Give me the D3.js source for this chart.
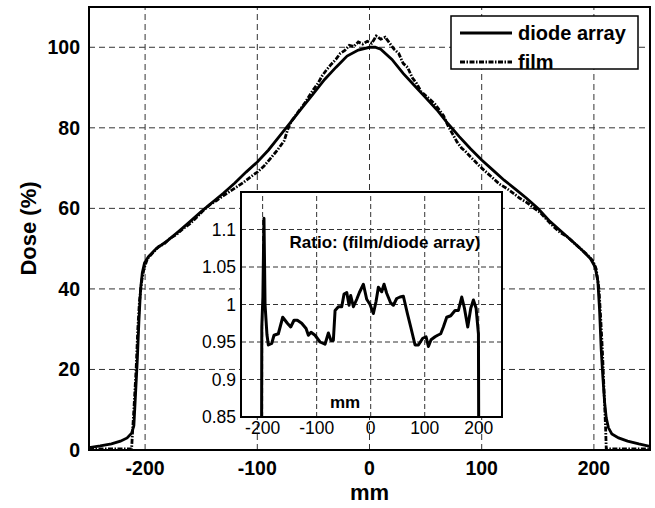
<!DOCTYPE html>
<html>
<head>
<meta charset="utf-8">
<script src="https://cdn.jsdelivr.net/npm/d3@7"></script>
<style>
    body { margin: 0; background: #fff; }
    svg { font-family: "Liberation Sans", Arial, sans-serif; }
</style>
</head>
<body>
<svg id="chart" width="655" height="508"></svg>
<script>
// position (mm), dose (%)
var diodeArray = [
    [-250, 0.6], [-240, 1.0], [-230, 1.5], [-222, 2.2], [-216, 3.0], [-212, 4.2], [-210, 6],
    [-208.5, 14], [-207, 22], [-205.5, 32], [-204, 40], [-202.5, 44], [-200.5, 46.5], [-197, 48],
    [-190, 50], [-180, 52], [-170, 54.3], [-160, 56.7], [-150, 59.2], [-140, 61.5], [-130, 63.8],
    [-120, 66.3], [-110, 69], [-100, 71.5], [-90, 74.5], [-80, 78], [-70, 81.5], [-60, 85],
    [-50, 88.5], [-40, 92], [-30, 95], [-20, 97.8], [-10, 99.3], [0, 100], [5, 100], [10, 99.5],
    [20, 97], [30, 93.5], [40, 90.5], [50, 87.5], [60, 84.5], [70, 81], [80, 77.8], [90, 74.8],
    [100, 72], [110, 69.5], [120, 67], [130, 64.8], [140, 62.5], [150, 60], [160, 57], [170, 54.5],
    [180, 52], [190, 49.5], [197, 47.5], [201, 45.5], [203.5, 42], [205, 35], [206.5, 25], [208, 18],
    [209.5, 12], [211, 8], [213, 5.5], [216, 4], [222, 3], [230, 2.2], [240, 1.5], [250, 0.9]
];
var film = [
    [-250, 0.3], [-240, 0.3], [-230, 0.3], [-220, 0.3], [-212, 0.3], [-211.5, 3], [-210, 10],
    [-208, 20], [-206.5, 30], [-205, 37], [-203, 42], [-201, 45], [-198, 47.5], [-193, 49],
    [-188, 50.5], [-183, 51.2], [-178, 52.5], [-172, 53.5], [-166, 55], [-160, 56.2], [-154, 57.8],
    [-148, 59.5], [-142, 61], [-136, 62], [-130, 63.2], [-124, 64.3], [-118, 65.4], [-112, 66.5],
    [-106, 67.8], [-100, 69], [-94, 70.5], [-88, 72.5], [-82, 74.5], [-76, 76.8], [-73, 79.5],
    [-70, 81.5], [-66, 83], [-62, 84.5], [-58, 86], [-54, 87.8], [-50, 89.5], [-46, 91], [-42, 93],
    [-38, 94.5], [-34, 95.8], [-30, 97], [-26, 98.5], [-22, 99.2], [-18, 100.5], [-14, 100.2],
    [-10, 101.3], [-6, 100.8], [-2, 101.5], [2, 101], [6, 102.8], [10, 102], [14, 102.5], [18, 101],
    [22, 99.5], [26, 98.5], [30, 96], [34, 95], [38, 92.5], [42, 91], [46, 89], [50, 88], [54, 87],
    [58, 86], [62, 84.5], [66, 83], [70, 80.5], [74, 78.5], [78, 76.5], [82, 75], [86, 74],
    [90, 72.8], [94, 71.7], [98, 70.5], [102, 69.5], [106, 68.5], [110, 67.5], [116, 66], [122, 65],
    [128, 63.8], [134, 62.5], [140, 61.5], [146, 60.2], [152, 59], [158, 57.2], [164, 55.5],
    [170, 54], [176, 53], [182, 51.5], [188, 50], [194, 48.5], [199, 47], [202, 45], [204.5, 40],
    [206, 33], [207.5, 25], [209, 15], [210.5, 5], [211, 0.3], [220, 0.3], [230, 0.3], [240, 0.3],
    [250, 0.3]
];
// film / diode array
var ratio = [
    [-202, 0.8], [-201.5, 0.97], [-199.5, 1.01], [-197.5, 1.115], [-195.5, 1.0], [-192, 0.96],
    [-189.4, 0.946], [-183.2, 0.948], [-178.9, 0.959], [-170.9, 0.961], [-162.8, 0.983],
    [-154.2, 0.975], [-148, 0.970], [-141.9, 0.979], [-135.7, 0.979], [-127.7, 0.975],
    [-119.6, 0.968], [-115.3, 0.959], [-110.4, 0.963], [-103, 0.959], [-93.8, 0.950],
    [-84.5, 0.947], [-78.3, 0.962], [-73.5, 0.952], [-69.1, 0.952], [-65.9, 0.992], [-59.8, 0.997],
    [-53.6, 0.997], [-49.3, 1.014], [-44.3, 1.016], [-40, 0.999], [-37, 1.012], [-32, 0.997],
    [-25.8, 1.007], [-20.9, 1.016], [-13.5, 1.027], [-7.4, 1.007], [-1.2, 1.0], [5, 0.988],
    [9.9, 1.004], [14.2, 1.023], [20.4, 1.017], [24.7, 1.027], [29.6, 1.015], [37, 1.002],
    [42, 0.999], [48.1, 1.008], [54.3, 1.010], [60.5, 1.011], [67.9, 0.988], [74.1, 0.970],
    [82.1, 0.946], [88.3, 0.946], [96.3, 0.955], [102.5, 0.957], [106.8, 0.944], [111.7, 0.953],
    [119.1, 0.957], [124, 0.959], [129.6, 0.961], [134.5, 0.970], [140.7, 0.983], [148.1, 0.985],
    [156.1, 0.992], [162.3, 0.992], [168.5, 1.010], [173.5, 0.995], [179.6, 0.970], [185.2, 0.995],
    [190.1, 1.006], [195.1, 0.995], [199.4, 0.961], [200, 0.8]
];
var xTicks = [-200, -100, 0, 100, 200];
var yTicks = [0, 20, 40, 60, 80, 100];
var insetXTicks = [-200, -100, 0, 100, 200];
var insetYTicks = [0.85, 0.9, 0.95, 1, 1.05, 1.1];

var svg = d3.select("#chart");

var plot = {left: 89, top: 7, right: 650, bottom: 450};
var x = d3.scaleLinear().domain([-250, 250]).range([plot.left, plot.right]);
var y = d3.scaleLinear().domain([0, 110]).range([plot.bottom, plot.top]);

function drawGrid(g, xs, ys, xt, yt, dash) {
    g.selectAll("line.vgrid")
        .data(xt)
        .enter().append("line")
        .attr("x1", function (d) { return xs(d); })
        .attr("x2", function (d) { return xs(d); })
        .attr("y1", ys.range()[0])
        .attr("y2", ys.range()[1])
        .attr("stroke", "#333")
        .attr("stroke-width", 1)
        .attr("stroke-dasharray", dash);
    g.selectAll("line.hgrid")
        .data(yt)
        .enter().append("line")
        .attr("x1", xs.range()[0])
        .attr("x2", xs.range()[1])
        .attr("y1", function (d) { return ys(d); })
        .attr("y2", function (d) { return ys(d); })
        .attr("stroke", "#333")
        .attr("stroke-width", 1)
        .attr("stroke-dasharray", dash);
}

var main = svg.append("g");
drawGrid(main, x, y, xTicks, yTicks.slice(1), "6,4");

main.append("clipPath").attr("id", "mainClip")
    .append("rect")
    .attr("x", plot.left).attr("y", plot.top)
    .attr("width", plot.right - plot.left).attr("height", plot.bottom - plot.top);

var line = d3.line()
    .x(function (d) { return x(d[0]); })
    .y(function (d) { return y(d[1]); });

main.append("path")
    .attr("d", line(film))
    .attr("clip-path", "url(#mainClip)")
    .attr("fill", "none")
    .attr("stroke", "#000")
    .attr("stroke-width", 2.8)
    .attr("stroke-dasharray", "5,1.5,1.5,1.5");
main.append("path")
    .attr("d", line(diodeArray))
    .attr("clip-path", "url(#mainClip)")
    .attr("fill", "none")
    .attr("stroke", "#000")
    .attr("stroke-width", 2.8);

main.append("rect")
    .attr("x", plot.left).attr("y", plot.top)
    .attr("width", plot.right - plot.left).attr("height", plot.bottom - plot.top)
    .attr("fill", "none")
    .attr("stroke", "#000")
    .attr("stroke-width", 2);

main.selectAll("text.ytick")
    .data(yTicks)
    .enter().append("text")
    .attr("x", 80)
    .attr("y", function (d) { return y(d) + 7; })
    .attr("text-anchor", "end")
    .attr("font-size", 19.5)
    .attr("font-weight", "bold")
    .text(function (d) { return d; });
main.selectAll("text.xtick")
    .data(xTicks)
    .enter().append("text")
    .attr("x", function (d) { return x(d); })
    .attr("y", 475)
    .attr("text-anchor", "middle")
    .attr("font-size", 19.5)
    .attr("font-weight", "bold")
    .text(function (d) { return d; });
main.append("text")
    .attr("x", x(0))
    .attr("y", 500)
    .attr("text-anchor", "middle")
    .attr("font-size", 22)
    .attr("font-weight", "bold")
    .text("mm");
main.append("text")
    .attr("transform", "translate(36," + ((plot.top + plot.bottom) / 2) + ") rotate(-90)")
    .attr("text-anchor", "middle")
    .attr("font-size", 22)
    .attr("font-weight", "bold")
    .text("Dose (%)");

// legend
var legend = main.append("g");
legend.append("rect")
    .attr("x", 451).attr("y", 16)
    .attr("width", 187).attr("height", 53)
    .attr("fill", "#fff")
    .attr("stroke", "#000")
    .attr("stroke-width", 1.5);
var legendItems = [
    {label: "diode array", dash: null},
    {label: "film", dash: "5,1.5,1.5,1.5"}
];
legend.selectAll("g")
    .data(legendItems)
    .enter().append("g")
    .attr("transform", function (d, i) { return "translate(0," + (33 + i * 29) + ")"; })
    .each(function (d) {
        var g = d3.select(this);
        g.append("line")
            .attr("x1", 460).attr("x2", 512)
            .attr("y1", 0).attr("y2", 0)
            .attr("stroke", "#000")
            .attr("stroke-width", 2.8)
            .attr("stroke-dasharray", d.dash);
        g.append("text")
            .attr("x", 518)
            .attr("y", 7)
            .attr("font-size", 20)
            .attr("font-weight", "bold")
            .text(d.label);
    });

// inset
var box = {left: 241, top: 192, right: 502, bottom: 417};
var ix = d3.scaleLinear().domain([-240, 243]).range([box.left, box.right]);
var iy = d3.scaleLinear().domain([0.85, 1.15]).range([box.bottom, box.top]);
var inset = svg.append("g");
inset.append("rect")
    .attr("x", box.left).attr("y", box.top)
    .attr("width", box.right - box.left).attr("height", box.bottom - box.top)
    .attr("fill", "#fff");
drawGrid(inset, ix, iy, insetXTicks, insetYTicks.slice(1), "5,3");

inset.append("clipPath").attr("id", "insetClip")
    .append("rect")
    .attr("x", box.left).attr("y", box.top)
    .attr("width", box.right - box.left).attr("height", box.bottom - box.top);

inset.append("path")
    .attr("d", d3.line()
        .x(function (d) { return ix(d[0]); })
        .y(function (d) { return iy(d[1]); })(ratio))
    .attr("clip-path", "url(#insetClip)")
    .attr("fill", "none")
    .attr("stroke", "#000")
    .attr("stroke-width", 3)
    .attr("stroke-linejoin", "round");

inset.append("rect")
    .attr("x", box.left).attr("y", box.top)
    .attr("width", box.right - box.left).attr("height", box.bottom - box.top)
    .attr("fill", "none")
    .attr("stroke", "#000")
    .attr("stroke-width", 2);

inset.selectAll("text.ytick")
    .data(insetYTicks)
    .enter().append("text")
    .attr("x", 236)
    .attr("y", function (d) { return iy(d) + 6; })
    .attr("text-anchor", "end")
    .attr("font-size", 17.5)
    .text(function (d) { return d; });
inset.selectAll("text.xtick")
    .data(insetXTicks)
    .enter().append("text")
    .attr("x", function (d) { return ix(d); })
    .attr("y", 434)
    .attr("text-anchor", "middle")
    .attr("font-size", 17.5)
    .text(function (d) { return d; });
inset.append("text")
    .attr("x", 385)
    .attr("y", 248)
    .attr("text-anchor", "middle")
    .attr("font-size", 17)
    .attr("font-weight", "bold")
    .text("Ratio: (film/diode array)");
inset.append("text")
    .attr("x", 345)
    .attr("y", 408)
    .attr("text-anchor", "middle")
    .attr("font-size", 17)
    .attr("font-weight", "bold")
    .text("mm");
</script>
</body>
</html>
